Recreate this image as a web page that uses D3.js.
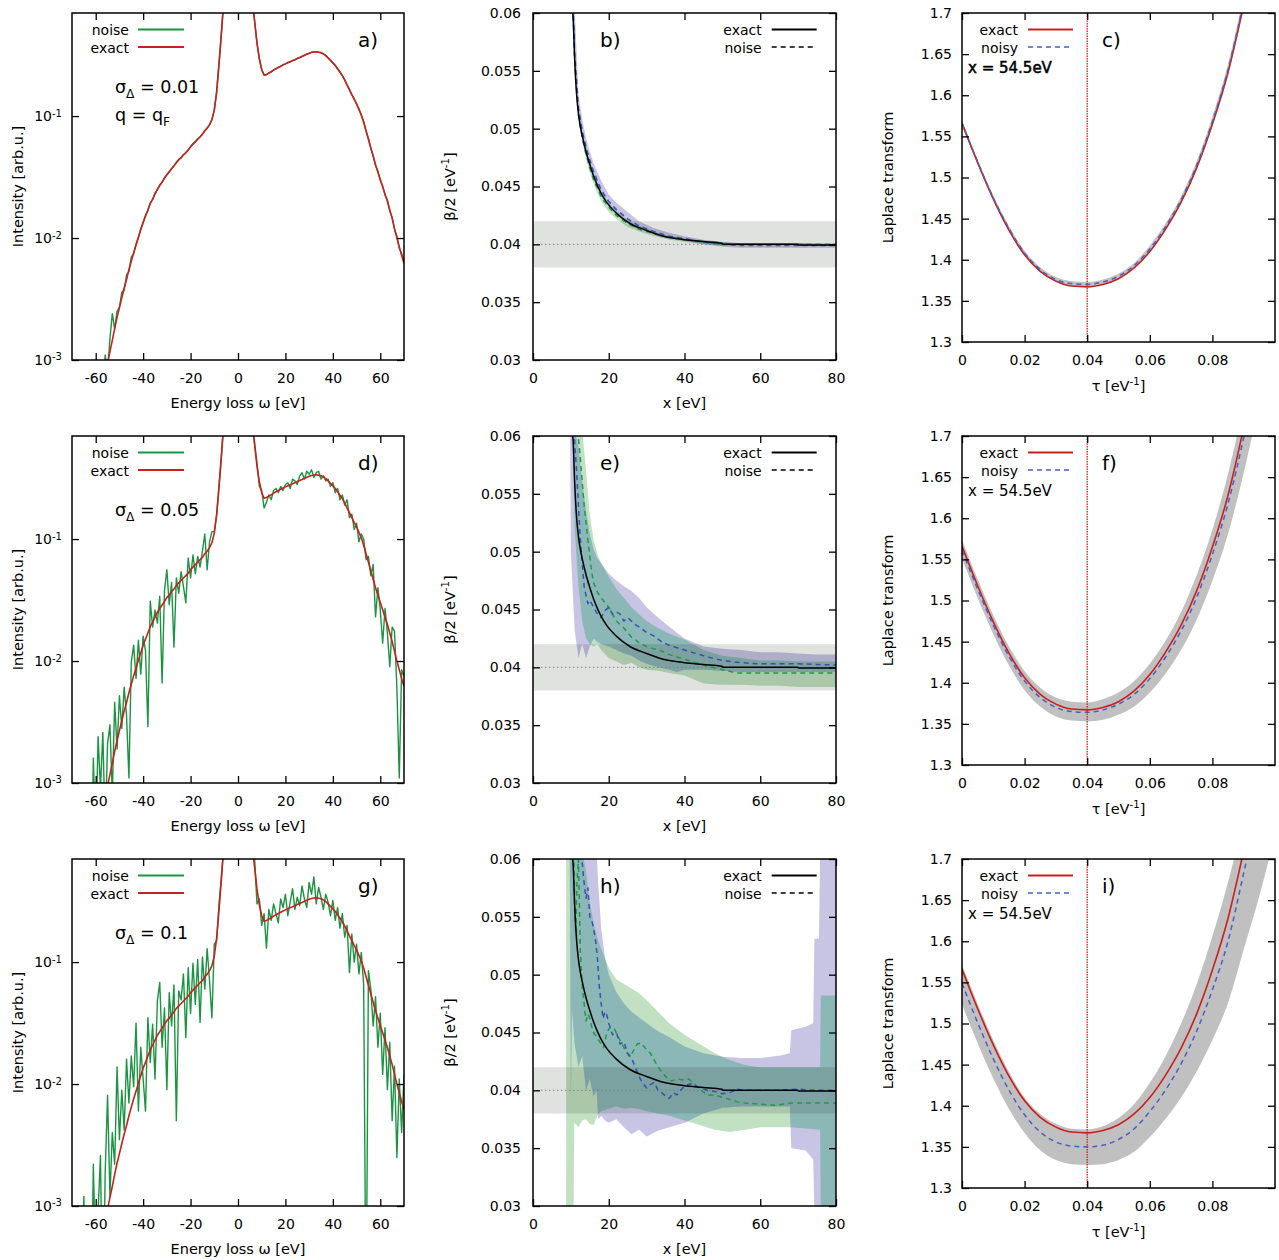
<!DOCTYPE html>
<html>
<head>
<meta charset="utf-8">
<script src="https://cdn.jsdelivr.net/npm/d3@7"></script>
<style>
  body { margin: 0; background: #fff; }
  svg text { font-family: 'DejaVu Sans', sans-serif; fill: #000; }
</style>
</head>
<body>
<div id="graph"></div>
<script>
'use strict';

// ---------- spectra (a, d, g) ----------
// energy loss grid [eV]
const omega = [-66, -65, -64, -63, -62, -61, -60, -59, -58, -57,
  -56, -55, -54, -53, -52, -51, -50, -49, -48, -47,
  -46, -45, -44, -43, -42, -41, -40, -39, -38, -37,
  -36, -35, -34, -33, -32, -31, -30, -29, -28, -27,
  -26, -25, -24, -23, -22, -21, -20, -19, -18, -17,
  -16, -15, -14, -13, -12, -11, -10, -9, -8, -7,
  -6, -5, -4, -3, -2, -1, 0, 1, 2, 3,
  4, 5, 6, 7, 8, 9, 10, 11, 12, 13,
  14, 15, 16, 17, 18, 19, 20, 21, 22, 23,
  24, 25, 26, 27, 28, 29, 30, 31, 32, 33,
  34, 35, 36, 37, 38, 39, 40, 41, 42, 43,
  44, 45, 46, 47, 48, 49, 50, 51, 52, 53,
  54, 55, 56, 57, 58, 59, 60, 61, 62, 63,
  64, 65, 66, 67, 68, 69, 70];

const specExact = [0.000089, 0.00011, 0.000135, 0.000166, 0.000204, 0.000251, 0.000316, 0.000398, 0.00049, 0.000617,
  0.00076, 0.00095, 0.00117, 0.00145, 0.00182, 0.00224, 0.00269, 0.00324, 0.00389, 0.00457,
  0.0055, 0.00646, 0.00759, 0.00871, 0.0102, 0.0117, 0.0135, 0.0151, 0.017, 0.0191,
  0.0209, 0.0229, 0.0251, 0.0269, 0.0288, 0.0309, 0.0331, 0.0347, 0.0372, 0.0389,
  0.0417, 0.0437, 0.0457, 0.0479, 0.0501, 0.0525, 0.0562, 0.0589, 0.0617, 0.0646,
  0.0676, 0.0708, 0.0759, 0.0794, 0.0851, 0.0933, 0.112, 0.158, 0.269, 0.479,
  0.891, 1.5, 2.4, 3.4, 4.3, 5.0, 5.3, 5.0, 4.3, 3.4,
  2.4, 1.5, 0.891, 0.603, 0.398, 0.295, 0.240, 0.216, 0.219, 0.225,
  0.231, 0.238, 0.244, 0.250, 0.256, 0.262, 0.268, 0.274, 0.279, 0.284,
  0.290, 0.296, 0.302, 0.308, 0.315, 0.321, 0.327, 0.332, 0.335, 0.336,
  0.334, 0.330, 0.324, 0.313, 0.300, 0.286, 0.273, 0.260, 0.244, 0.229,
  0.215, 0.197, 0.180, 0.164, 0.150, 0.137, 0.126, 0.1135, 0.102, 0.0891,
  0.0759, 0.0646, 0.055, 0.0468, 0.0398, 0.0347, 0.0302, 0.0263, 0.0229, 0.020,
  0.017, 0.0145, 0.012, 0.010, 0.0085, 0.0072, 0.0062];

// sigma_Delta = 0.01
const specNoise01 = [0.0001, 0.0001, 0.00015, 0.0002, 0.0002, 0.0003, 0.0003, 0.0004, 0.0005, 0.0006,
  0.0011, 0.0008, 0.0015, 0.0024, 0.0018, 0.0025, 0.0027, 0.0036, 0.0037, 0.0050,
  0.0053, 0.0070, 0.0074, 0.0090, 0.0100, 0.0120, 0.0133, 0.0155, 0.0168, 0.0195,
  0.0206, 0.0234, 0.0248, 0.0274, 0.0285, 0.0314, 0.0328, 0.0352, 0.0368, 0.0394,
  0.0413, 0.0442, 0.0453, 0.0484, 0.0497, 0.0531, 0.0557, 0.0595, 0.0612, 0.0652,
  0.0671, 0.0714, 0.0754, 0.0800, 0.0846, 0.0938, 0.112, 0.158, 0.269, 0.479,
  0.891, 1.5, 2.4, 3.4, 4.3, 5.0, 5.3, 5.0, 4.3, 3.4,
  2.4, 1.5, 0.891, 0.603, 0.398, 0.296, 0.239, 0.218, 0.218, 0.227,
  0.230, 0.240, 0.243, 0.252, 0.255, 0.264, 0.267, 0.276, 0.278, 0.286,
  0.289, 0.298, 0.301, 0.310, 0.314, 0.323, 0.326, 0.334, 0.334, 0.338,
  0.333, 0.332, 0.323, 0.315, 0.299, 0.288, 0.272, 0.262, 0.243, 0.231,
  0.214, 0.199, 0.179, 0.166, 0.149, 0.139, 0.125, 0.115, 0.101, 0.0902,
  0.0752, 0.0655, 0.0543, 0.0476, 0.0392, 0.0354, 0.0297, 0.0268, 0.0225, 0.0205,
  0.0166, 0.0149, 0.0117, 0.0104, 0.0082, 0.0075, 0.0063];

// sigma_Delta = 0.05
const specNoise05 = [0.00005, 0.0001, 0.00008, 0.0002, 0.0001, 0.0016, 0.0003, 0.0024, 0.0009, 0.0026,
  0.0004, 0.0021, 0.0030, 0.0008, 0.0046, 0.0019, 0.0052, 0.0028, 0.0061, 0.0036,
  0.0011, 0.0098, 0.0135, 0.0072, 0.0148, 0.0078, 0.0160, 0.0121, 0.0029, 0.0310,
  0.0190, 0.0262, 0.0205, 0.0340, 0.0066, 0.0380, 0.0560, 0.0290, 0.0440, 0.0130,
  0.0480, 0.0360, 0.0540, 0.0410, 0.0300, 0.0700, 0.0480, 0.0740, 0.0520, 0.0720,
  0.0590, 0.0800, 0.1100, 0.0560, 0.0950, 0.1150, 0.1150, 0.1600, 0.2700, 0.4800,
  0.9, 1.5, 2.4, 3.4, 4.3, 5.0, 5.3, 5.0, 4.3, 3.4,
  2.4, 1.5, 0.9, 0.60, 0.42, 0.27, 0.25, 0.18, 0.20, 0.23,
  0.21, 0.25, 0.26, 0.24, 0.27, 0.25, 0.28, 0.29, 0.26, 0.31,
  0.30, 0.28, 0.33, 0.35, 0.31, 0.36, 0.34, 0.37, 0.32, 0.35,
  0.36, 0.31, 0.33, 0.30, 0.31, 0.27, 0.29, 0.24, 0.26, 0.21,
  0.23, 0.19, 0.21, 0.15, 0.16, 0.12, 0.135, 0.095, 0.11, 0.10,
  0.068, 0.072, 0.050, 0.062, 0.023, 0.040, 0.026, 0.014, 0.027, 0.017,
  0.009, 0.019, 0.0175, 0.006, 0.0011, 0.0085, 0.0075];

// sigma_Delta = 0.1
const specNoise10 = [0.0002, 0.0012, 0.0001, 0.0004, 0.0001, 0.0022, 0.0003, 0.0009, 0.0026, 0.0001,
  0.0019, 0.0081, 0.0012, 0.0040, 0.0022, 0.0138, 0.0035, 0.0089, 0.0042, 0.0160,
  0.0070, 0.0170, 0.0095, 0.0316, 0.0060, 0.0200, 0.0110, 0.0060, 0.0350, 0.0150,
  0.0310, 0.0110, 0.0480, 0.0680, 0.0200, 0.0420, 0.0090, 0.0560, 0.0300, 0.0650,
  0.0050, 0.0580, 0.0490, 0.0800, 0.0240, 0.0900, 0.0380, 0.0980, 0.0450, 0.1050,
  0.0320, 0.1100, 0.0600, 0.1290, 0.0700, 0.0350, 0.1400, 0.1500, 0.3000, 0.5000,
  0.9, 1.5, 2.4, 3.4, 4.3, 5.0, 5.3, 5.0, 4.3, 3.4,
  2.4, 1.5, 1.0, 0.7, 0.30, 0.33, 0.20, 0.25, 0.13, 0.27,
  0.22, 0.30, 0.25, 0.21, 0.33, 0.28, 0.36, 0.24, 0.31, 0.40,
  0.27, 0.34, 0.29, 0.42, 0.33, 0.28, 0.45, 0.36, 0.50, 0.30,
  0.41, 0.34, 0.27, 0.36, 0.31, 0.24, 0.32, 0.22, 0.28, 0.19,
  0.25, 0.16, 0.20, 0.082, 0.17, 0.10, 0.14, 0.08, 0.12, 0.065,
  0.0001, 0.085, 0.060, 0.030, 0.052, 0.020, 0.038, 0.012, 0.029, 0.009,
  0.022, 0.005, 0.014, 0.0025, 0.011, 0.004, 0.012];

// ---------- beta/2 (b, e, h) ----------
const betaX = [10.3, 10.6, 11, 11.5, 12, 12.5, 13, 14, 15, 16, 17, 18, 19.5, 22, 25.6, 30, 34.4, 40, 45, 49.9, 50.1, 55, 60, 69.9, 70.1, 75, 80];
const betaExact = [0.0605, 0.0595, 0.0560, 0.0530, 0.0513, 0.0502, 0.0494, 0.0480, 0.0469, 0.0459, 0.0451, 0.0444, 0.0436, 0.0427, 0.0418, 0.0412, 0.0407, 0.0404, 0.04025, 0.0401, 0.0400, 0.0400, 0.0400, 0.0400, 0.03995, 0.03995, 0.03995];

// b) sigma 0.01
const bX = [10.6, 11, 12, 13, 14, 15, 16, 18, 20, 22, 25, 28, 32, 36, 40, 45, 50, 55, 60, 70, 80];
const bBlueLo = [0.0600, 0.0563, 0.0514, 0.0495, 0.0480, 0.0469, 0.0459, 0.0445, 0.0435, 0.0428, 0.0420, 0.0414, 0.0409, 0.0405, 0.0403, 0.0400, 0.0398, 0.0397, 0.0397, 0.0397, 0.0397];
const bBlueHi = [0.0605, 0.0605, 0.0530, 0.0508, 0.0492, 0.0480, 0.0470, 0.0455, 0.0443, 0.0436, 0.0428, 0.0420, 0.0414, 0.0410, 0.0407, 0.0404, 0.0402, 0.0401, 0.0401, 0.0401, 0.0400];
const bGreenLo = [0.0590, 0.0550, 0.0506, 0.0488, 0.0474, 0.0462, 0.0452, 0.0437, 0.0428, 0.0422, 0.0415, 0.0411, 0.0407, 0.0404, 0.0402, 0.0400, 0.0399, 0.0399, 0.0399, 0.0399, 0.0399];
const bGreenHi = [0.0605, 0.0565, 0.0516, 0.0497, 0.0483, 0.0471, 0.0461, 0.0446, 0.0436, 0.0429, 0.0421, 0.0416, 0.0411, 0.0407, 0.0405, 0.0403, 0.0402, 0.0401, 0.0401, 0.0401, 0.0401];
const bBlueMean = [0.0605, 0.0565, 0.0518, 0.0498, 0.0484, 0.0473, 0.0463, 0.0447, 0.0437, 0.0430, 0.0422, 0.0416, 0.0411, 0.0407, 0.0405, 0.0402, 0.0400, 0.0399, 0.0399, 0.0399, 0.0399];
const bGreenMean = [0.0598, 0.0558, 0.0511, 0.0492, 0.0478, 0.0466, 0.0456, 0.0441, 0.0432, 0.0425, 0.0418, 0.0413, 0.0409, 0.0406, 0.0404, 0.0402, 0.0400, 0.0400, 0.0400, 0.0400, 0.0400];

// e) sigma 0.05
const eBlueX = [9.8, 10, 11, 12, 13, 14, 15, 16, 17, 18, 20, 22, 24, 26, 28, 30, 33, 36, 38, 40, 45, 50, 55, 60, 65, 70, 75, 80];
const eBlueLo = [0.0600, 0.0500, 0.0432, 0.0408, 0.0420, 0.0408, 0.0418, 0.0425, 0.0422, 0.0420, 0.0418, 0.0415, 0.0412, 0.0410, 0.0406, 0.0403, 0.0400, 0.0398, 0.0396, 0.0398, 0.0398, 0.0397, 0.0396, 0.0396, 0.0396, 0.0396, 0.0396, 0.0396];
const eBlueHi = [0.0600, 0.0605, 0.0605, 0.0590, 0.0560, 0.0535, 0.0515, 0.0502, 0.0494, 0.0490, 0.0481, 0.0475, 0.0470, 0.0466, 0.0460, 0.0452, 0.0443, 0.0435, 0.0430, 0.0425, 0.0418, 0.0416, 0.0415, 0.0413, 0.0413, 0.0412, 0.0411, 0.0411];
const eGreenX = [10.5, 11, 12, 13, 14, 15, 16, 17, 18, 20, 22, 24, 26, 28, 30, 33, 36, 40, 45, 50, 55, 60, 65, 70, 75, 80];
const eGreenLo = [0.0600, 0.0520, 0.0470, 0.0440, 0.0425, 0.0420, 0.0418, 0.0420, 0.0415, 0.0408, 0.0405, 0.0402, 0.0404, 0.0400, 0.0398, 0.0397, 0.0395, 0.0393, 0.0386, 0.0385, 0.0385, 0.0384, 0.0384, 0.0383, 0.0383, 0.0383];
const eGreenHi = [0.0605, 0.0605, 0.0605, 0.0605, 0.0570, 0.0532, 0.0510, 0.0498, 0.0490, 0.0478, 0.0468, 0.0460, 0.0452, 0.0446, 0.0440, 0.0434, 0.0429, 0.0424, 0.0415, 0.0410, 0.0408, 0.0406, 0.0406, 0.0405, 0.0405, 0.0405];
const eBlueMeanX = [10.8, 11.5, 12, 12.5, 13, 13.5, 14, 14.5, 15, 16, 17, 18, 19, 20, 21, 22, 23, 24, 25, 26, 27, 28, 30, 32, 34, 36, 38, 40, 43, 46, 50, 55, 60, 70, 80];
const eBlueMean = [0.0605, 0.0570, 0.0540, 0.0510, 0.0490, 0.0470, 0.0462, 0.0455, 0.0458, 0.0452, 0.0446, 0.0443, 0.0449, 0.0452, 0.0446, 0.0448, 0.0446, 0.0440, 0.0443, 0.0440, 0.0437, 0.0435, 0.0430, 0.0427, 0.0422, 0.0419, 0.0417, 0.0415, 0.0412, 0.0409, 0.0406, 0.0404, 0.0403, 0.0403, 0.0402];
const eGreenMeanX = [11.8, 12.5, 13, 13.5, 14, 14.5, 15, 15.5, 16, 17, 18, 19, 20, 21, 22, 23, 24, 25, 26, 27, 28, 30, 32, 34, 36, 38, 40, 43, 46, 50, 54, 60, 70, 80];
const eGreenMean = [0.0605, 0.0580, 0.0560, 0.0540, 0.0525, 0.0510, 0.0496, 0.0482, 0.0473, 0.0465, 0.0460, 0.0456, 0.0452, 0.0446, 0.0440, 0.0437, 0.0434, 0.0430, 0.0426, 0.0424, 0.0421, 0.0418, 0.0416, 0.0414, 0.0411, 0.0409, 0.0407, 0.0404, 0.0401, 0.0398, 0.0395, 0.0395, 0.0395, 0.0395];

// h) sigma 0.1
const hBlueX = [9.7, 10.0, 10.3, 11, 12, 13, 14, 15, 16, 16.8, 17.2, 18, 19, 20, 22, 24, 26, 28, 30, 33, 36, 40, 45, 50, 55, 60, 65, 67.8, 68.2, 72, 74, 74.3, 75.5, 75.8, 80];
const hBlueLo = [0.0605, 0.0394, 0.0470, 0.0440, 0.0420, 0.0430, 0.0400, 0.0410, 0.0395, 0.0400, 0.0375, 0.0378, 0.0374, 0.0372, 0.0375, 0.0368, 0.0362, 0.0366, 0.0360, 0.0365, 0.0368, 0.0372, 0.0380, 0.0385, 0.0386, 0.0386, 0.0386, 0.0386, 0.0350, 0.0348, 0.0340, 0.0295, 0.0295, 0.0295, 0.0295];
const hBlueHi = [0.0605, 0.0605, 0.0605, 0.0605, 0.0605, 0.0605, 0.0605, 0.0605, 0.0605, 0.0605, 0.0580, 0.0540, 0.0515, 0.0500, 0.0485, 0.0475, 0.0468, 0.0463, 0.0458, 0.0451, 0.0446, 0.0438, 0.0432, 0.0429, 0.0428, 0.0428, 0.0430, 0.0432, 0.0452, 0.0455, 0.0458, 0.0531, 0.0531, 0.0605, 0.0605];
const hGreenX = [8.75, 10.7, 10.9, 12, 13, 14, 15, 16, 17, 18, 20, 22, 24, 26, 28, 30, 33, 36, 40, 44, 48, 52, 56, 60, 64, 68, 72, 75.8, 76.0, 80];
const hGreenLo = [0.0295, 0.0295, 0.0372, 0.0368, 0.0374, 0.0375, 0.0371, 0.0370, 0.0378, 0.0382, 0.0384, 0.0386, 0.0384, 0.0385, 0.0384, 0.0382, 0.0380, 0.0378, 0.0374, 0.0370, 0.0366, 0.0364, 0.0366, 0.0368, 0.0368, 0.0368, 0.0367, 0.0366, 0.0295, 0.0295];
const hGreenHi = [0.0605, 0.0605, 0.0605, 0.0605, 0.0605, 0.0590, 0.0562, 0.0545, 0.0532, 0.0522, 0.0506, 0.0496, 0.0492, 0.0488, 0.0484, 0.0478, 0.0468, 0.0458, 0.0448, 0.0440, 0.0432, 0.0426, 0.0422, 0.0420, 0.0420, 0.0420, 0.0420, 0.0420, 0.0482, 0.0482];
const hBlueMeanX = [12.8, 13.3, 14, 14.5, 15, 15.5, 16, 16.5, 17, 17.5, 18, 18.5, 19, 19.5, 20, 21, 22, 23, 24, 25, 26, 27, 28, 29, 30, 31, 32, 33, 34, 35, 36, 37, 38, 39, 40, 42, 44, 46, 48, 50, 52, 54, 56, 60, 65, 70, 75, 80];
const hBlueMean = [0.0605, 0.0585, 0.0566, 0.0575, 0.0550, 0.0547, 0.0540, 0.0530, 0.0515, 0.0490, 0.0475, 0.0462, 0.0468, 0.0465, 0.0458, 0.0448, 0.0450, 0.0440, 0.0442, 0.0432, 0.0428, 0.0420, 0.0412, 0.0406, 0.0402, 0.0405, 0.0407, 0.0400, 0.0398, 0.0395, 0.0393, 0.0398, 0.0396, 0.0400, 0.0404, 0.0406, 0.0402, 0.0400, 0.0399, 0.0397, 0.0398, 0.0401, 0.0400, 0.0400, 0.0400, 0.0401, 0.0400, 0.0400];
const hGreenMeanX = [10.8, 11, 11.3, 11.6, 12, 12.5, 13, 13.5, 14, 14.5, 15, 15.5, 16, 17, 18, 18.6, 19.5, 20.5, 21.5, 22.5, 23.5, 24.5, 25.5, 26.5, 27.5, 28.5, 29.5, 31, 32, 33.5, 35, 36.5, 38, 39.5, 41, 42.5, 44, 46, 48, 50, 52, 54, 56, 60, 64, 68, 72, 76, 80];
const hGreenMean = [0.0605, 0.0560, 0.0536, 0.0580, 0.0600, 0.0520, 0.0490, 0.0475, 0.0460, 0.0466, 0.0462, 0.0455, 0.0450, 0.0445, 0.0440, 0.0437, 0.0450, 0.0455, 0.0453, 0.0446, 0.0440, 0.0434, 0.0429, 0.0434, 0.0440, 0.0441, 0.0437, 0.0432, 0.0426, 0.0418, 0.0412, 0.0408, 0.0410, 0.0409, 0.0410, 0.0406, 0.0401, 0.0396, 0.0396, 0.0394, 0.0392, 0.0390, 0.0389, 0.0388, 0.0387, 0.0389, 0.0389, 0.0389, 0.0389];

// ---------- Laplace transform (c, f, i) ----------
const tau = [0, 0.005, 0.01, 0.015, 0.02, 0.025, 0.03, 0.035, 0.04, 0.045, 0.05, 0.055, 0.06, 0.065, 0.07, 0.075, 0.08, 0.085, 0.09, 0.095, 0.1];
const lapExact = [1.566, 1.518, 1.474, 1.436, 1.406, 1.386, 1.374, 1.368, 1.367, 1.370, 1.377, 1.390, 1.410, 1.437, 1.470, 1.512, 1.565, 1.628, 1.71, 1.80, 1.90];
const lapNoisyC = [1.566, 1.519, 1.475, 1.438, 1.408, 1.388, 1.376, 1.371, 1.370, 1.373, 1.380, 1.393, 1.413, 1.440, 1.473, 1.515, 1.568, 1.631, 1.713, 1.80, 1.90];
const lapLoC = [1.563, 1.516, 1.472, 1.435, 1.405, 1.385, 1.373, 1.368, 1.367, 1.370, 1.377, 1.390, 1.409, 1.436, 1.469, 1.510, 1.562, 1.624, 1.705, 1.79, 1.88];
const lapHiC = [1.569, 1.522, 1.478, 1.441, 1.411, 1.391, 1.379, 1.374, 1.373, 1.376, 1.383, 1.396, 1.417, 1.444, 1.477, 1.520, 1.574, 1.638, 1.721, 1.81, 1.90];
const lapNoisyF = [1.561, 1.514, 1.470, 1.432, 1.402, 1.382, 1.370, 1.365, 1.364, 1.367, 1.374, 1.386, 1.405, 1.431, 1.463, 1.504, 1.556, 1.618, 1.698, 1.79, 1.89];
const lapLoF = [1.551, 1.503, 1.459, 1.421, 1.391, 1.371, 1.359, 1.354, 1.353, 1.355, 1.361, 1.371, 1.388, 1.411, 1.440, 1.477, 1.524, 1.581, 1.655, 1.74, 1.83];
const lapHiF = [1.574, 1.526, 1.482, 1.444, 1.414, 1.394, 1.382, 1.377, 1.376, 1.380, 1.388, 1.402, 1.423, 1.451, 1.486, 1.531, 1.586, 1.654, 1.739, 1.84, 1.94];
const lapNoisyI = [1.549, 1.501, 1.457, 1.419, 1.389, 1.368, 1.356, 1.351, 1.350, 1.352, 1.359, 1.372, 1.393, 1.419, 1.451, 1.491, 1.541, 1.600, 1.683, 1.77, 1.87];
const lapLoI = [1.523, 1.476, 1.433, 1.396, 1.367, 1.346, 1.334, 1.329, 1.328, 1.329, 1.334, 1.344, 1.362, 1.384, 1.410, 1.442, 1.480, 1.525, 1.590, 1.655, 1.73];
const lapHiI = [1.571, 1.524, 1.480, 1.441, 1.410, 1.390, 1.378, 1.372, 1.371, 1.375, 1.385, 1.402, 1.428, 1.460, 1.500, 1.548, 1.606, 1.672, 1.750, 1.84, 1.93];
const tauMin = 0.04;

// ---------- ticks / labels ----------
const spectrumXTicks = [-60, -40, -20, 0, 20, 40, 60];
const spectrumYTicks = [0.001, 0.01, 0.1];
const betaXTicks = [0, 20, 40, 60, 80];
const betaYTicks = [0.03, 0.035, 0.04, 0.045, 0.05, 0.055, 0.06];
const tauXTicks = [0, 0.02, 0.04, 0.06, 0.08];
const lapYTicks = [1.3, 1.35, 1.4, 1.45, 1.5, 1.55, 1.6, 1.65, 1.7];
const sigmas = ['0.01', '0.05', '0.1'];
const panelLetters = [['a)', 'b)', 'c)'], ['d)', 'e)', 'f)'], ['g)', 'h)', 'i)']];

const colors = {
    noise: '#1b9442',
    exact: '#c8201e',
    blue: '#3a4fb4',
    green: '#1f9a47',
    blueBand: 'rgb(200,196,228)',
    greenBand: 'rgb(194,225,194)',
    overlapBand: 'rgb(140,183,183)',
    grayBand: 'rgb(224,226,224)',
    lapBand: '#c0c0c0',
    lapBlue: '#4a5ec2'
};

const measurements = {
    width: 1279,
    height: 1260,
    cols: [{left: 72, right: 404}, {left: 533, right: 836}, {left: 962, right: 1275}],
    rows: [13, 436, 859],
    heights: [347, 347, 329]
};

const svg = d3.select('#graph')
    .append('svg')
    .attr('width', measurements.width)
    .attr('height', measurements.height);
svg.append('rect').attr('width', measurements.width).attr('height', measurements.height).attr('fill', '#fff');
const defs = svg.append('defs');

function makePanel(id, col, row, xDomain, yDomain, logY) {
    const c = measurements.cols[col];
    const top = measurements.rows[row];
    const bottom = top + measurements.heights[col];
    const x = d3.scaleLinear().domain(xDomain).range([c.left, c.right]);
    const y = (logY ? d3.scaleLog() : d3.scaleLinear()).domain(yDomain).range([bottom, top]);
    defs.append('clipPath').attr('id', 'clip-' + id)
        .append('rect')
        .attr('x', c.left).attr('y', top)
        .attr('width', c.right - c.left).attr('height', bottom - top);
    const g = svg.append('g');
    const plot = g.append('g').attr('clip-path', 'url(#clip-' + id + ')');
    return {id: id, g: g, plot: plot, x: x, y: y, left: c.left, right: c.right, top: top, bottom: bottom};
}

function drawAxes(p, xTicks, yTicks, xFmt, yFmt, yPad) {
    const t = 7;
    const put = (gen, tr) => p.g.append('g')
        .attr('transform', tr)
        .call(gen)
        .call(s => s.select('.domain').remove())
        .call(s => s.selectAll('line').attr('stroke-width', 1.3))
        .attr('font-family', null)
        .attr('font-size', 14);
    put(d3.axisBottom(p.x).tickValues(xTicks).tickSize(-t).tickPadding(13).tickFormat(xFmt), 'translate(0,' + p.bottom + ')');
    put(d3.axisTop(p.x).tickValues(xTicks).tickSize(-t).tickFormat(''), 'translate(0,' + p.top + ')');
    const yl = put(d3.axisLeft(p.y).tickValues(yTicks).tickSize(-t).tickPadding(yPad).tickFormat(yFmt), 'translate(' + p.left + ',0)');
    put(d3.axisRight(p.y).tickValues(yTicks).tickSize(-t).tickFormat(''), 'translate(' + p.right + ',0)');
    p.g.append('rect')
        .attr('x', p.left).attr('y', p.top)
        .attr('width', p.right - p.left).attr('height', p.bottom - p.top)
        .attr('fill', 'none').attr('stroke', '#000').attr('stroke-width', 1.5);
    return yl;
}

// text made of pieces, each [string, 'sub' | 'sup' | null]
function richText(parent, x, y, pieces, size, anchor) {
    const t = parent.append('text')
        .attr('x', x).attr('y', y)
        .attr('font-size', size)
        .attr('text-anchor', anchor || 'start');
    let shift = 0;
    pieces.forEach(([s, kind]) => {
        const target = kind === 'sub' ? size * 0.28 : kind === 'sup' ? -size * 0.42 : 0;
        t.append('tspan')
            .attr('dy', target - shift)
            .attr('font-size', kind ? size * 0.7 : size)
            .text(s);
        shift = target;
    });
    return t;
}

function drawLine(p, xs, ys, color, width, dash, curve) {
    const line = d3.line()
        .x((d, i) => p.x(xs[i]))
        .y(d => p.y(d))
        .curve(curve || d3.curveLinear);
    p.plot.append('path')
        .datum(ys)
        .attr('d', line)
        .attr('fill', 'none')
        .attr('stroke', color)
        .attr('stroke-width', width)
        .attr('stroke-dasharray', dash || null)
        .attr('stroke-linejoin', 'round');
}

function bandPath(p, xs, lo, hi, curve) {
    return d3.area()
        .x((d, i) => p.x(xs[i]))
        .y0((d, i) => p.y(lo[i]))
        .y1(d => p.y(d))
        .curve(curve || d3.curveLinear)(hi);
}

// green band, blue band and their overlap (teal) drawn as flat colours
function drawBandPair(p, s) {
    const gPath = bandPath(p, s.gx, s.gLo, s.gHi);
    const bPath = bandPath(p, s.bx, s.bLo, s.bHi);
    p.plot.append('path').attr('d', gPath).attr('fill', colors.greenBand);
    p.plot.append('path').attr('d', bPath).attr('fill', colors.blueBand);
    defs.append('clipPath').attr('id', 'ov-' + p.id).append('path').attr('d', gPath);
    p.plot.append('g').attr('clip-path', 'url(#ov-' + p.id + ')')
        .append('path').attr('d', bPath).attr('fill', colors.overlapBand);
}

function legendEntry(p, textEnd, x0, x1, yBase, label, color, width, dash) {
    p.g.append('text')
        .attr('x', textEnd).attr('y', yBase)
        .attr('text-anchor', 'end')
        .attr('font-size', 14)
        .text(label);
    p.g.append('line')
        .attr('x1', x0).attr('x2', x1)
        .attr('y1', yBase - 5.5).attr('y2', yBase - 5.5)
        .attr('stroke', color)
        .attr('stroke-width', width)
        .attr('stroke-dasharray', dash || null);
}

function axisTitles(p, xTitle, yTitle, xOffset, yX) {
    richText(p.g, (p.left + p.right) / 2, p.bottom + xOffset, xTitle, 14.5, 'middle');
    const cy = (p.top + p.bottom) / 2;
    const t = richText(p.g, 0, 0, yTitle, 14.5, 'middle');
    t.attr('transform', 'translate(' + yX + ',' + cy + ') rotate(-90)');
}

// ---------- column 1: spectra ----------
const spectra = [specNoise01, specNoise05, specNoise10];
spectra.forEach((noisy, row) => {
    const p = makePanel('s' + row, 0, row, [-70, 70], [0.001, 0.7], true);
    drawLine(p, omega, noisy, colors.noise, 1.4);
    drawLine(p, omega, specExact, colors.exact, 1.6);
    const yl = drawAxes(p, spectrumXTicks, spectrumYTicks, d => String(d), d => '', 10);
    yl.selectAll('.tick text').each(function(d) {
        const t = d3.select(this);
        t.append('tspan').text('10');
        t.append('tspan').attr('dy', '-0.45em').attr('font-size', 10).text(String(Math.round(Math.log10(d))));
    });
    axisTitles(p, [['Energy loss ω [eV]', null]], [['Intensity [arb.u.]', null]], 48, 23);
    legendEntry(p, p.left + 57, p.left + 66, p.left + 112, p.top + 22, 'noise', colors.noise, 2);
    legendEntry(p, p.left + 57, p.left + 66, p.left + 112, p.top + 39.5, 'exact', colors.exact, 2);
    p.g.append('text').attr('x', p.left + 286).attr('y', p.top + 34).attr('font-size', 20).text(panelLetters[row][0]);
    richText(p.g, p.left + 43, p.top + 80, [['σ', null], ['Δ', 'sub'], [' = ' + sigmas[row], null]], 17.5);
    if (row === 0) {
        richText(p.g, p.left + 43, p.top + 108, [['q = q', null], ['F', 'sub']], 17.5);
    }
});

// ---------- column 2: beta/2 ----------
const betaSets = [
    {gx: bX, gLo: bGreenLo, gHi: bGreenHi, bx: bX, bLo: bBlueLo, bHi: bBlueHi,
     gmx: bX, gm: bGreenMean, bmx: bX, bm: bBlueMean},
    {gx: eGreenX, gLo: eGreenLo, gHi: eGreenHi, bx: eBlueX, bLo: eBlueLo, bHi: eBlueHi,
     gmx: eGreenMeanX, gm: eGreenMean, bmx: eBlueMeanX, bm: eBlueMean},
    {gx: hGreenX, gLo: hGreenLo, gHi: hGreenHi, bx: hBlueX, bLo: hBlueLo, bHi: hBlueHi,
     gmx: hGreenMeanX, gm: hGreenMean, bmx: hBlueMeanX, bm: hBlueMean}
];
betaSets.forEach((s, row) => {
    const p = makePanel('b' + row, 1, row, [0, 80], [0.03, 0.06], false);
    drawBandPair(p, s);
    // reference band 0.038..0.042, multiplied over the noise bands
    p.plot.append('rect')
        .attr('x', p.left).attr('width', p.right - p.left)
        .attr('y', p.y(0.042)).attr('height', p.y(0.038) - p.y(0.042))
        .attr('fill', colors.grayBand)
        .style('mix-blend-mode', 'multiply');
    p.plot.append('line')
        .attr('x1', p.left).attr('x2', p.right)
        .attr('y1', p.y(0.04)).attr('y2', p.y(0.04))
        .attr('stroke', '#808080').attr('stroke-width', 1).attr('stroke-dasharray', '1.5,2.5');
    drawLine(p, s.gmx, s.gm, colors.green, 1.5, '5,4');
    drawLine(p, s.bmx, s.bm, colors.blue, 1.5, '5,4');
    drawLine(p, betaX, betaExact, '#000', 1.5, null, d3.curveMonotoneX);
    drawAxes(p, betaXTicks, betaYTicks, d => String(d), d3.format('.3~f'), 12);
    axisTitles(p, [['x [eV]', null]], [['β/2 [eV', null], ['-1', 'sup'], [']', null]], 48, 455);
    legendEntry(p, p.left + 228.7, p.left + 238.7, p.left + 283.7, p.top + 22, 'exact', '#000', 2);
    legendEntry(p, p.left + 228.7, p.left + 238.7, p.left + 283.7, p.top + 39.5, 'noise', '#000', 1.5, '5,4');
    p.g.append('text').attr('x', p.left + 67).attr('y', p.top + 34).attr('font-size', 20).text(panelLetters[row][1]);
});

// ---------- column 3: Laplace transform ----------
const lapSets = [
    {noisy: lapNoisyC, lo: lapLoC, hi: lapHiC},
    {noisy: lapNoisyF, lo: lapLoF, hi: lapHiF},
    {noisy: lapNoisyI, lo: lapLoI, hi: lapHiI}
];
lapSets.forEach((s, row) => {
    const p = makePanel('l' + row, 2, row, [0, 0.1], [1.3, 1.7], false);
    p.plot.append('path').attr('d', bandPath(p, tau, s.lo, s.hi, d3.curveMonotoneX)).attr('fill', colors.lapBand);
    drawLine(p, tau, lapExact, colors.exact, 1.6, null, d3.curveMonotoneX);
    drawLine(p, tau, s.noisy, colors.lapBlue, 1.5, '5,4', d3.curveMonotoneX);
    p.plot.append('line')
        .attr('x1', p.x(tauMin)).attr('x2', p.x(tauMin))
        .attr('y1', p.top).attr('y2', p.bottom)
        .attr('stroke', colors.exact).attr('stroke-width', 1.3).attr('stroke-dasharray', '1.5,1');
    drawAxes(p, tauXTicks, lapYTicks, d => d === 0 ? '0' : d3.format('.2f')(d), d3.format('.2~f'), 10);
    axisTitles(p, [['τ [eV', null], ['-1', 'sup'], [']', null]], [['Laplace transform', null]], 49, 893);
    legendEntry(p, p.left + 56, p.left + 66, p.left + 111, p.top + 22, 'exact', colors.exact, 2);
    legendEntry(p, p.left + 56, p.left + 66, p.left + 111, p.top + 39.5, 'noisy', colors.lapBlue, 1.5, '5,4');
    p.g.append('text').attr('x', p.left + 6).attr('y', p.top + 60).attr('font-size', 15)
        .attr('stroke', row === 0 ? '#000' : null).attr('stroke-width', row === 0 ? 0.5 : null)
        .text('x = 54.5eV');
    p.g.append('text').attr('x', p.left + 140).attr('y', p.top + 34).attr('font-size', 20).text(panelLetters[row][2]);
});
</script>
</body>
</html>
